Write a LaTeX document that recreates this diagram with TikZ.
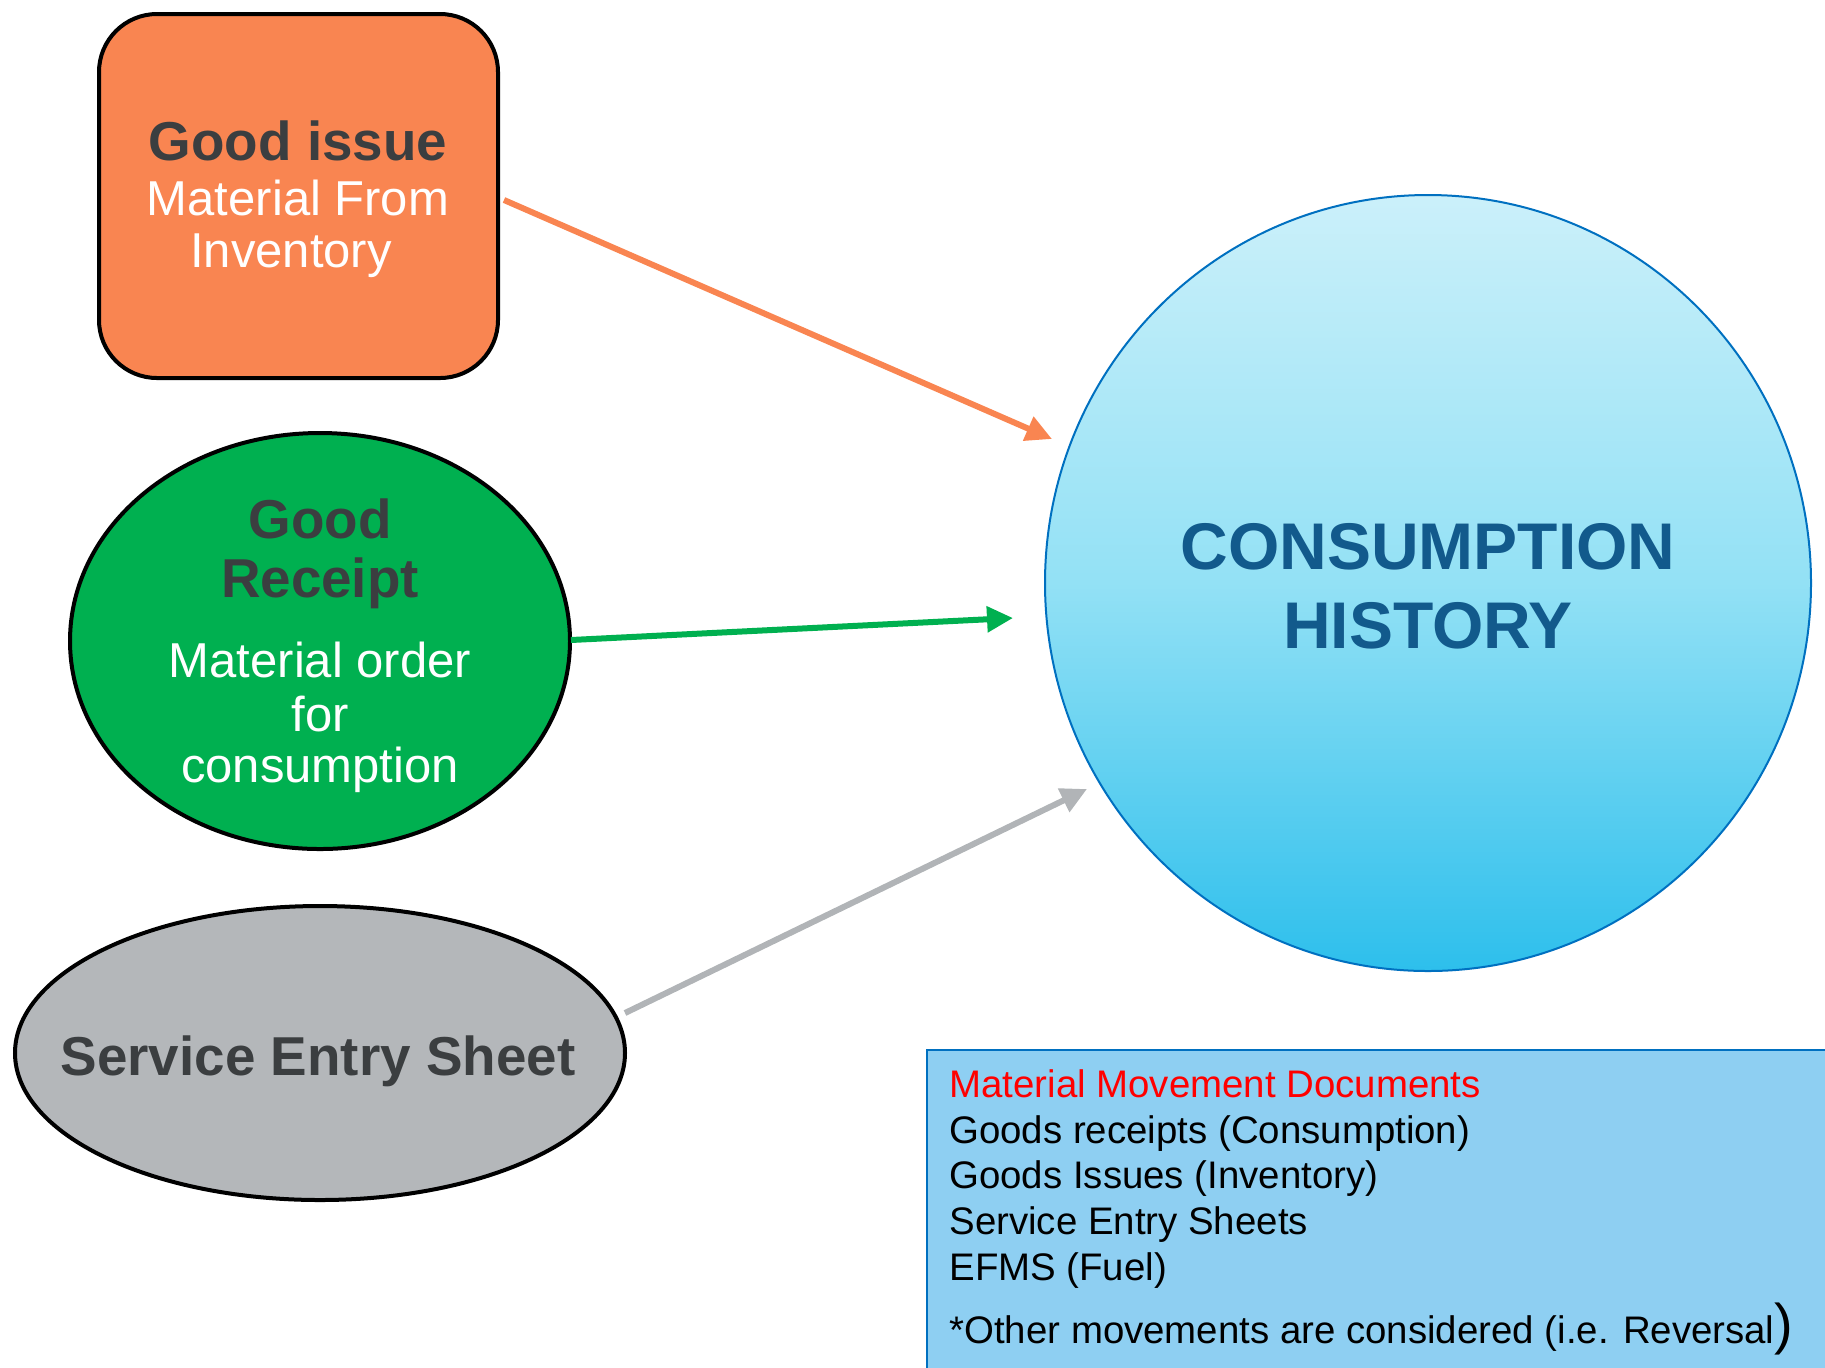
\documentclass[tikz,border=0pt]{standalone}
\usepackage{fontspec}
\setmainfont{Liberation Sans}
\usetikzlibrary{arrows.meta,shapes.geometric}
\definecolor{orng}{HTML}{F98551}
\definecolor{grn}{HTML}{00B050}
\definecolor{gry}{HTML}{B4B7BA}
\definecolor{gryarr}{HTML}{B1B4B7}
\definecolor{darktxt}{HTML}{3B3E40}
\definecolor{chblue}{HTML}{125A8C}
\definecolor{edgeblue}{HTML}{0070C0}
\definecolor{boxblue}{HTML}{8ECFF2}
\definecolor{ctop}{HTML}{CBF0FA}
\definecolor{cmid}{HTML}{93E1F5}
\definecolor{cbot}{HTML}{2DBFEC}
\tikzset{
  bigbold/.style={font=\fontsize{27.4}{27.4}\selectfont\bfseries, text=darktxt, anchor=base, inner sep=0},
  whitetxt/.style={font=\fontsize{24.5}{24.5}\selectfont, text=white, anchor=base, inner sep=0},
  listtxt/.style={font=\fontsize{19.2}{19.2}\selectfont, text=black, anchor=base west, inner sep=0},
  chtxt/.style={font=\fontsize{33}{33}\selectfont\bfseries, text=chblue, anchor=base, inner sep=0},
  arr/.style={line width=3pt, -{Triangle[length=13pt,width=12.5pt]}},
}
\begin{document}
\begin{tikzpicture}[x=0.5pt,y=-0.5pt]
\useasboundingbox (0,0) rectangle (1825,1367);
% shapes
\node[draw=black, line width=2pt, fill=orng, rounded corners=29pt, minimum width=199.5pt, minimum height=182pt, inner sep=0] (gi) at (298.5,196) {};
\node[ellipse, draw=black, line width=2pt, fill=grn, minimum width=250pt, minimum height=208pt, inner sep=0] (gr) at (320,641) {};
\node[ellipse, draw=black, line width=2pt, fill=gry, minimum width=305pt, minimum height=147pt, inner sep=0] (ses) at (320,1053) {};
\node[ellipse, draw=edgeblue, line width=1pt, top color=ctop, bottom color=cbot, middle color=cmid, minimum width=383pt, minimum height=388pt, inner sep=0] (ch) at (1428,583) {};
\node[draw=edgeblue, line width=1pt, fill=boxblue, minimum width=454pt, minimum height=165pt, inner sep=0] (mmd) at (1381,1215) {};
% texts
\node[bigbold] (t1) at (298,160) {Good issue};
\node[whitetxt] (t2) at (298,215) {Material From};
\node[whitetxt] (t3) at (291,267) {Inventory};
\node[bigbold] (t4) at (320,538) {Good};
\node[bigbold] (t5) at (320,597) {Receipt};
\node[whitetxt] (t6) at (320,677) {Material order};
\node[whitetxt] (t7) at (320,731) {for};
\node[whitetxt] (t8) at (320,782) {consumption};
\node[bigbold] (t9) at (318,1075) {Service Entry Sheet};
\node[chtxt] (t10) at (1428,569) {CONSUMPTION};
\node[chtxt] (t11) at (1428,648) {HISTORY};
\node[listtxt, text=red] (l1) at (949,1097) {Material Movement Documents};
\node[listtxt] (l2) at (949,1143) {Goods receipts (Consumption)};
\node[listtxt] (l3) at (949,1188) {Goods Issues (Inventory)};
\node[listtxt] (l4) at (949,1234) {Service Entry Sheets};
\node[listtxt] (l5) at (949,1280) {EFMS (Fuel)};
\node[listtxt] (l6) at (949,1343) {*Other movements are considered (i.e. Reversal{\fontsize{28}{28}\selectfont )}};
% connectors
\coordinate (s1) at (504,200);
\coordinate (e1) at (1052,439);
\coordinate (s2) at (571,640);
\coordinate (e2) at (1013,618);
\coordinate (s3) at (625,1013);
\coordinate (e3) at (1087,789);
\draw[arr, orng] (s1) -- (e1);
\draw[arr, grn] (s2) -- (e2);
\draw[arr, gryarr] (s3) -- (e3);
\end{tikzpicture}
\end{document}
